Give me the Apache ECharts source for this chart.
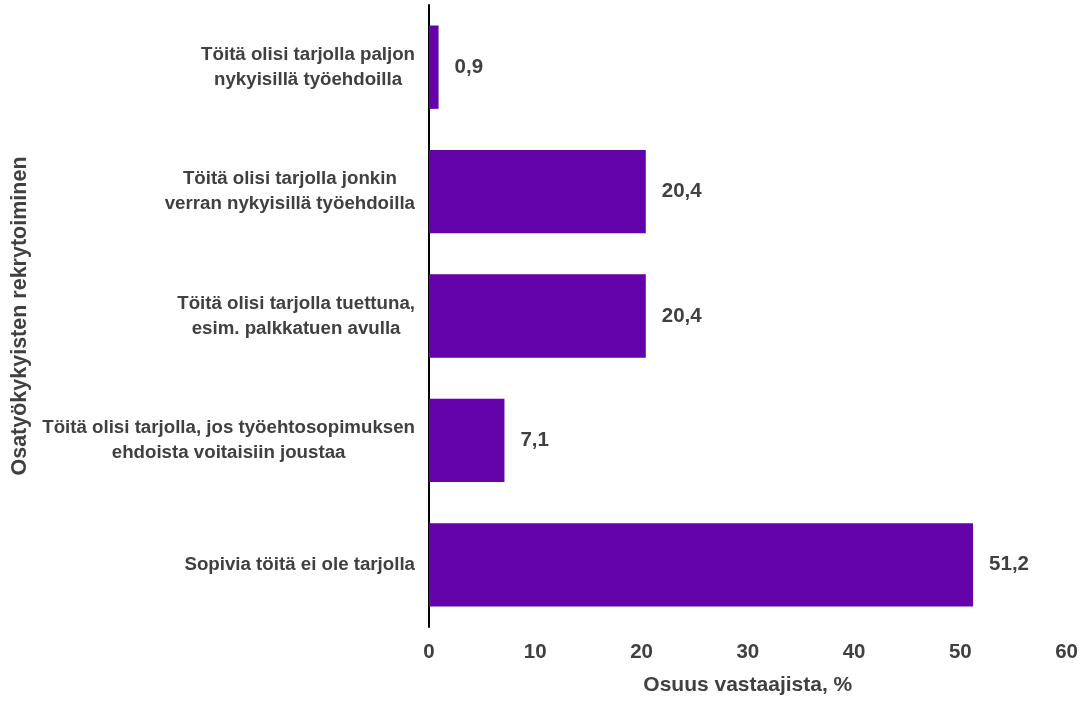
<!DOCTYPE html>
<html>
<head>
<meta charset="utf-8">
<script src="https://cdn.jsdelivr.net/npm/echarts@6/dist/echarts.min.js"></script>
<style>
  html, body { margin: 0; padding: 0; background: #fff; }
  #chart { width: 1081px; height: 701px; }
</style>
</head>
<body>
<div id="chart"></div>
<script>
// vastausvaihtoehdot, ylhäältä alas
var categories = [
    'Töitä olisi tarjolla paljon\nnykyisillä työehdoilla',
    'Töitä olisi tarjolla jonkin\nverran nykyisillä työehdoilla',
    'Töitä olisi tarjolla tuettuna,\nesim. palkkatuen avulla',
    'Töitä olisi tarjolla, jos työehtosopimuksen\nehdoista voitaisiin joustaa',
    'Sopivia töitä ei ole tarjolla'
];
var shares = [0.9, 20.4, 20.4, 7.1, 51.2];
var xTicks = [0, 10, 20, 30, 40, 50, 60];

var textColor = '#404040';
var font = '"Liberation Sans", Arial, sans-serif';

var chart = echarts.init(document.getElementById('chart'));
chart.setOption({
    animation: false,
    grid: { left: 429, right: 14, top: 5, bottom: 71 },
    xAxis: {
        type: 'value',
        min: xTicks[0],
        max: xTicks[xTicks.length - 1],
        interval: 10,
        name: 'Osuus vastaajista, %',
        nameLocation: 'middle',
        nameGap: 48,
        nameTextStyle: { color: textColor, fontSize: 21, fontWeight: 'bold', fontFamily: font },
        axisLine: { show: false },
        axisTick: { show: false },
        splitLine: { show: false },
        axisLabel: { color: textColor, fontSize: 20.5, fontWeight: 'bold', fontFamily: font, margin: 15 }
    },
    yAxis: {
        type: 'category',
        inverse: true,
        data: categories,
        name: 'Osatyökykyisten rekrytoiminen',
        nameLocation: 'middle',
        nameGap: 398,
        nameRotate: 90,
        nameTextStyle: { color: textColor, fontSize: 21.5, fontWeight: 'bold', fontFamily: font },
        axisLine: { show: true, lineStyle: { color: '#000', width: 2 } },
        axisTick: { show: false },
        axisLabel: {
            margin: 14,
            formatter: function (v) {
                return v.split('\n').map(function (l) { return '{c|' + l + '}'; }).join('\n');
            },
            rich: {
                c: { align: 'center', color: textColor, fontSize: 18.7, fontWeight: 'bold', fontFamily: font, lineHeight: 25 }
            }
        }
    },
    series: [{
        type: 'bar',
        data: shares,
        barCategoryGap: '33%',
        itemStyle: { color: '#6402a9' },
        label: {
            show: true,
            position: 'right',
            distance: 16,
            color: textColor,
            fontSize: 20.5,
            fontWeight: 'bold',
            fontFamily: font,
            formatter: function (p) { return String(p.value.toFixed(1)).replace('.', ','); }
        }
    }]
});
</script>
</body>
</html>
